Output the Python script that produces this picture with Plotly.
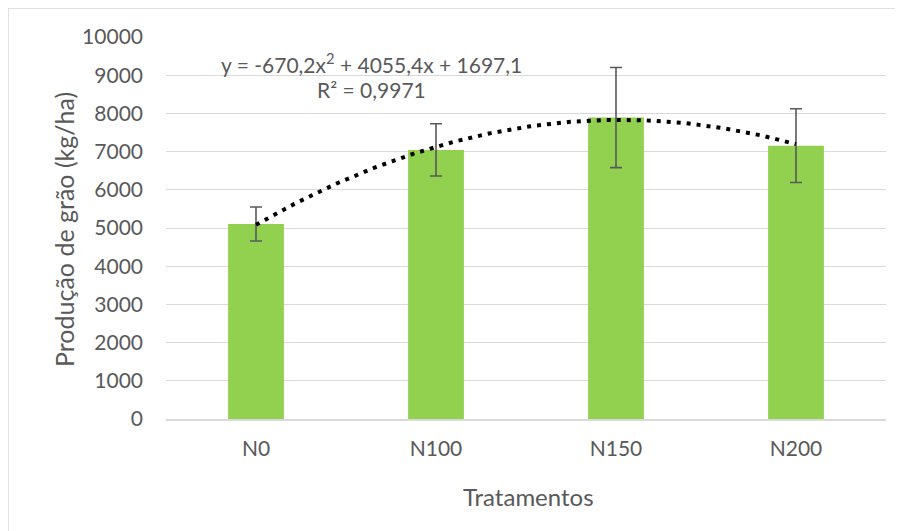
import numpy as np
import plotly.graph_objects as go

# ---- data ----
categories = ["N0", "N100", "N150", "N200"]
producao = [5105, 7045, 7890, 7155]
erro = [445, 685, 1310, 965]
trend_coef = [-670.2, 4055.4, 1697.1]   # y = a x^2 + b x + c  (x = 1..4)
y_ticks = [0, 1000, 2000, 3000, 4000, 5000, 6000, 7000, 8000, 9000, 10000]
y_ticktext = [str(v) for v in y_ticks]
eq_text = "y = -670,2x<sup>2</sup> + 4055,4x + 1697,1"
r2_text = "R² = 0,9971"

FONT = "Lato, 'Liberation Sans', sans-serif"
GREY = "#595959"
GRID = "#D9D9D9"

xpos = list(range(len(categories)))
xt = np.linspace(1, len(categories), 300)
yt = np.polyval(trend_coef, xt)

# page pixel -> paper helpers (plot area: x 166..886, y 37..419 on the page)
def px(x):
    return (x - 166) / 720

def py(y):
    return (419 - y) / 382

fig = go.Figure()
fig.add_trace(go.Bar(
    x=xpos, y=producao, width=0.31,
    marker=dict(color="#92D050", line=dict(width=0)),
    error_y=dict(type="data", array=erro, visible=True,
                 color=GREY, thickness=1.6, width=6),
    showlegend=False, hoverinfo="y",
))
fig.add_trace(go.Scatter(
    x=xt - 1, y=yt, mode="lines",
    line=dict(color="black", width=4, dash="4px,6px"),
    showlegend=False, hoverinfo="skip",
))

fig.update_layout(
    width=895, height=523,
    margin=dict(l=158, r=17, t=29, b=112),
    paper_bgcolor="white", plot_bgcolor="white",
    font=dict(family=FONT, color=GREY, size=21),
    xaxis=dict(
        range=[-0.5, len(categories) - 0.5],
        tickvals=xpos, ticktext=categories,
        showgrid=False, zeroline=False,
        showline=True, linecolor=GRID, linewidth=1.5,
        ticks="", tickfont=dict(size=21, color=GREY),
        ticklabelstandoff=10,
    ),
    yaxis=dict(
        range=[0, 10000], tickvals=y_ticks, ticktext=y_ticktext,
        showgrid=True, gridcolor=GRID, gridwidth=1.4,
        zeroline=False, showline=False, ticks="",
        tickfont=dict(size=21, color=GREY),
        ticklabelstandoff=22,
    ),
    annotations=[
        dict(x=0.64, y=9319, xref="x", yref="y", text=eq_text,
             xanchor="center", yanchor="middle",
             showarrow=False, font=dict(size=21, color=GREY, family=FONT)),
        dict(x=0.64, y=8620, xref="x", yref="y", text=r2_text,
             xanchor="center", yanchor="middle",
             showarrow=False, font=dict(size=21, color=GREY, family=FONT)),
        dict(x=px(64), y=py(230), xref="paper", yref="paper",
             xanchor="center", yanchor="middle",
             text="Produção de grão (kg/ha)", textangle=-90, showarrow=False,
             font=dict(size=25, color=GREY, family=FONT)),
        dict(x=px(528), y=py(496), xref="paper", yref="paper",
             xanchor="center", yanchor="middle",
             text="Tratamentos", showarrow=False,
             font=dict(size=24, color=GREY, family=FONT)),
    ],
    shapes=[
        dict(type="rect", xref="paper", yref="paper",
             x0=px(8), x1=1.2, y0=-0.5, y1=py(8),
             line=dict(color=GRID, width=1.5), fillcolor="rgba(0,0,0,0)",
             layer="below"),
    ],
)

fig.write_html("out.html")
